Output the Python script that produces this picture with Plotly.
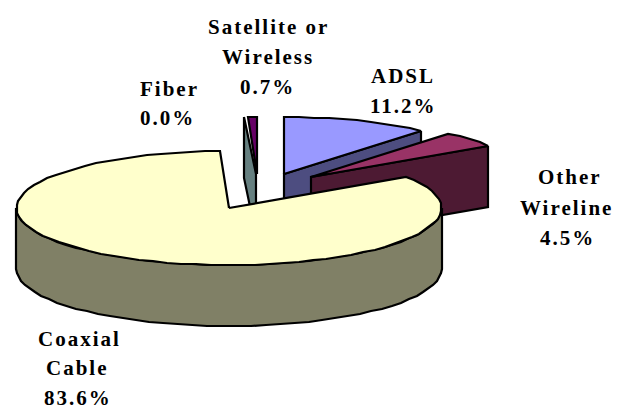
import math
import plotly.graph_objects as go

# Data
categories = ["ADSL", "Other Wireline", "Coaxial Cable", "Fiber", "Satellite or Wireless"]
values = [11.2, 4.5, 83.6, 0.0, 0.7]
label_lines = [["ADSL"], ["Other", "Wireline"], ["Coaxial", "Cable"], ["Fiber"], ["Satellite or", "Wireless"]]

# Styles and layout of the pseudo-3D pie (pixel scale on the axes)
top_colors = ["#9999FF", "#993366", "#FFFFCC", "#CCFFFF", "#660066"]
side_colors = ["#4D4D80", "#4D1A33", "#808066", "#668080", "#330033"]
apexes = [(284, 174), (311, 177), (229, 208), (256, 174), (257, 174)]
RX, RY, DEPTH = 212.5, 57, 61
label_pos = [[(403, 76), (403, 106)],
             [(570, 177), (566, 208), (567, 238)],
             [(79, 339), (77, 368), (78, 398)],
             [(169, 89), (167, 118)],
             [(268, 27), (268, 57), (267, 87)]]

total = sum(values)
bounds = [0]
for v in values:
    bounds.append(bounds[-1] + v / total * 360)


def pt(apex, deg):
    t = math.radians(deg)
    return (round(apex[0] + RX * math.sin(t)), round(apex[1] - RY * math.cos(t)))


def arc(apex, a0, a1, step=4):
    n = max(1, int(abs(a1 - a0) / step))
    return [pt(apex, a0 + (a1 - a0) * i / n) for i in range(n + 1)]


def poly(fig, pts, color):
    pts = list(pts) + [pts[0]]
    fig.add_trace(go.Scatter(
        x=[p[0] for p in pts], y=[p[1] for p in pts],
        mode="lines", fill="toself", fillcolor=color,
        line=dict(color="black", width=2.2), hoverinfo="skip", showlegend=False,
    ))


def wall(fig, apex, deg, color):
    p = pt(apex, deg)
    poly(fig, [p, apex, (apex[0], apex[1] + DEPTH), (p[0], p[1] + DEPTH)], color)


fig = go.Figure()

# ADSL
wall(fig, apexes[0], bounds[1], side_colors[0])
poly(fig, [apexes[0]] + arc(apexes[0], bounds[0], bounds[1]), top_colors[0])
# Other Wireline
wall(fig, apexes[1], bounds[2], side_colors[1])
poly(fig, [apexes[1]] + arc(apexes[1], bounds[1], bounds[2]), top_colors[1])
# Fiber: zero-width slice, only its wall shows
wall(fig, apexes[3], bounds[3] - 0.6, side_colors[3])
# Satellite or Wireless
poly(fig, [apexes[4]] + arc(apexes[4], bounds[4], bounds[5]), top_colors[4])
# Coaxial Cable: rim, then top
c = apexes[2]
rim = arc(c, 90, 270)
poly(fig, rim + [(p[0], p[1] + DEPTH) for p in reversed(rim)], side_colors[2])
poly(fig, [c] + arc(c, bounds[2], bounds[3]), top_colors[2])

for i, lines in enumerate(label_lines):
    texts = lines + [f"{values[i]:.1f}%"]
    for text, (x, y) in zip(texts, label_pos[i]):
        fig.add_annotation(x=x, y=y, text=text, showarrow=False, xanchor="center", yanchor="middle",
                           font=dict(family="Liberation Serif", size=21, color="black", weight="bold"))

fig.update_layout(
    width=623, height=417, margin=dict(l=0, r=0, t=0, b=0),
    paper_bgcolor="white", plot_bgcolor="white", showlegend=False,
    xaxis=dict(range=[0, 623], visible=False, fixedrange=True),
    yaxis=dict(range=[417, 0], visible=False, fixedrange=True),
)

fig.write_html("out.html", post_script="""
document.body.style.margin='0';
document.querySelectorAll('.annotation-text').forEach(function(t){t.style.letterSpacing='2px';});
""", config={"displayModeBar": False})
